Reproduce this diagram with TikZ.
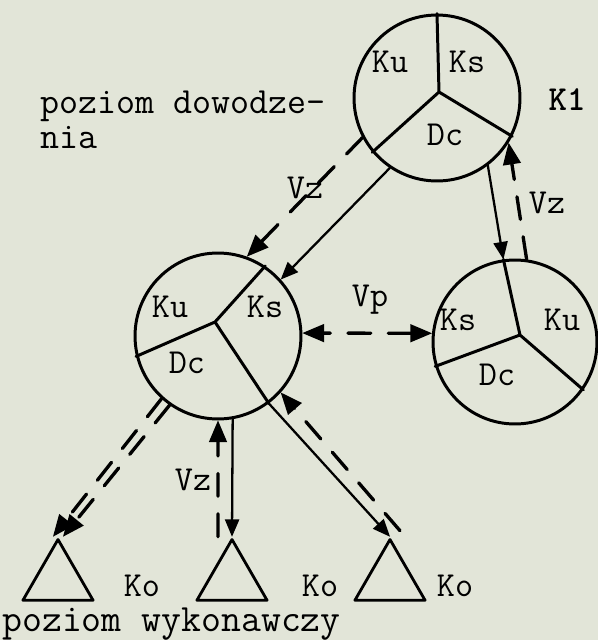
\documentclass[tikz,border=0pt]{standalone}
\usetikzlibrary{arrows,shapes.geometric}
\definecolor{paper}{RGB}{226,229,216}
\tikzset{
  unit/.style={circle,draw,line width=1.7pt,minimum size=3.32cm,inner sep=0pt},
  ko/.style={regular polygon,regular polygon sides=3,draw,line width=1.6pt,minimum size=1.62cm,inner sep=0pt},
  seg/.style={line width=1.7pt},
  order/.style={line width=1.3pt,->},
  report/.style={line width=1.9pt,dash pattern=on 13pt off 10pt,->},
  lbl/.style={font=\ttfamily\fontsize{20}{20}\selectfont,inner sep=0pt},
  lvl/.style={font=\ttfamily\fontsize{21}{21}\selectfont,inner sep=0pt,anchor=base west}
}
\begin{document}
\begin{tikzpicture}[line cap=round,line join=round,>=triangle 45,x=0.02cm,y=-0.02cm]
\fill[paper] (0,0) rectangle (598,640);
\useasboundingbox (0,0) rectangle (598,640);
% jednostki
\node[unit] (k1) at (437,98) {};
\node[unit] (lc) at (218,336) {};
\node[unit,minimum size=3.28cm] (rc) at (515,342) {};
\node[ko] (t1) at (58,580) {};
\node[ko] (t2) at (232,580) {};
\node[ko] (t3) at (390,580) {};
% podzial kol
\coordinate (k1h) at (439,92);
\coordinate (lch) at (215,322);
\coordinate (rch) at (520,335);
\draw[seg] (k1.90) -- (k1h) -- (k1.220) (k1h) -- (k1.333);
\draw[seg] (lc.56) -- (lch) -- (lc.194) (lch) -- (lc.307);
\draw[seg] (rc.98) -- (rch) -- (rc.197) (rch) -- (rc.325);
% polaczenia
\draw[order] (k1.236) -- (lc.42);
\draw[report] (k1.208) -- (lc.70);
\draw[order] (k1.307) -- (rc.98);
\draw[report] (rc.82) -- (k1.328);
\draw[report,<->] (lc.2) -- (rc.174);
\draw[report] (lc.228) -- ([xshift=-0.1cm]t1.corner 1);
\draw[report] (lc.235) -- ([xshift=0.1cm]t1.corner 1);
\draw[order] (lc.280) -- (t2.corner 1);
\draw[report] ([xshift=-0.28cm]t2.corner 1) -- (lc.270);
\draw[order] (lc.307) -- (t3.corner 1);
\draw[report] ([xshift=0.2cm,yshift=0.12cm]t3.corner 1) -- (lc.318);
% opisy
\node[lbl] (k1u) at (390,62) {Ku};
\node[lbl] (k1s) at (467,62) {Ks};
\node[lbl] (k1d) at (445,135) {Dc};
\node[lbl,font=\ttfamily\bfseries\fontsize{20}{20}\selectfont] (k1n) at (567,100) {K1};
\node[lbl] (lcu) at (170,307) {Ku};
\node[lbl] (lcs) at (265,307) {Ks};
\node[lbl] (lcd) at (187,363) {Dc};
\node[lbl] (rcs) at (458,320) {Ks};
\node[lbl] (rcu) at (562,320) {Ku};
\node[lbl] (rcd) at (497,375) {Dc};
\node[lbl] (vz1) at (305,188) {Vz};
\node[lbl] (vz2) at (547,203) {Vz};
\node[lbl] (vp) at (370,300) {Vp};
\node[lbl] (vz3) at (193,480) {Vz};
\node[lbl] (ko1) at (142,586) {Ko};
\node[lbl] (ko2) at (320,586) {Ko};
\node[lbl] (ko3) at (455,586) {Ko};
\node[lvl] (pd1) at (40,113) {poziom dowodze-};
\node[lvl] (pd2) at (40,148) {nia};
\node[lvl,font=\ttfamily\fontsize{22}{22}\selectfont] (pw) at (2,631) {poziom wykonawczy};
\end{tikzpicture}
\end{document}
